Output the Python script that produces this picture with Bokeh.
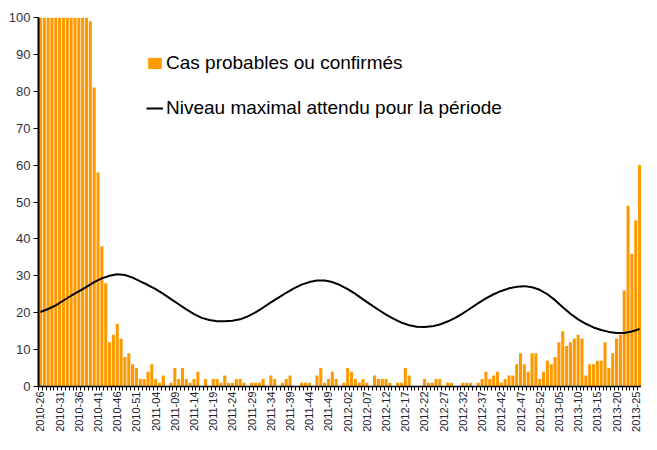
from bokeh.plotting import figure
from bokeh.models import FixedTicker, Range1d, Legend, LegendItem
from bokeh.embed import file_html
from bokeh.resources import INLINE
import math

# ISO weeks shown on the category axis
weeks = ([f"2010-{w:02d}" for w in range(26, 53)]
         + [f"2011-{w:02d}" for w in range(1, 53)]
         + [f"2012-{w:02d}" for w in range(1, 53)]
         + [f"2013-{w:02d}" for w in range(1, 27)])

# Weekly probable or confirmed cases (clipped at 100 by the axis)
cases = [
    100, 100, 100, 100, 100, 100, 100, 100, 100, 100, 100, 100, 100, 99, 81, 58, 38, 28, 12, 14,
    17, 13, 8, 9, 6, 5, 2,
    2, 4, 6, 2, 1, 3, 0, 1, 5, 2, 5, 2, 1, 2, 4, 0, 2, 0, 2, 2, 1, 3, 1,
    1, 2, 2, 1, 0, 1, 1, 1, 2, 0, 3, 2, 0, 1, 2, 3, 0, 0, 1, 1,
    1, 0, 3, 5, 1, 2, 4, 2, 0,
    1, 5, 4, 2, 1, 2, 1, 0, 3, 2, 2, 2, 1, 0, 1, 1, 5, 3, 0, 0,
    0, 2, 1, 1, 2, 2, 0, 1, 1, 0, 0, 1, 1, 1, 0, 1, 2, 4, 2, 3,
    4, 1, 2, 3, 3, 6, 9, 6, 4, 9, 9, 2,
    4, 7, 6, 8, 12, 15, 11, 12, 13, 14, 13, 3, 6, 6, 7, 7, 12, 5, 9, 13,
    14, 26, 49, 36, 45, 60,
]

# Expected maximum level, read every second week
level_weeks = weeks[::2]
level = [
    20.2, 21.0, 22.0, 23.3, 24.6, 25.8, 27.0, 28.3, 29.3, 30.0,
    30.4, 30.2, 29.5, 28.5, 27.5, 26.4, 25.1, 23.7, 22.3, 20.9,
    19.6, 18.6, 18.0, 17.7, 17.7, 17.8, 18.2, 19.0, 20.1, 21.4,
    22.8, 24.1, 25.4, 26.6, 27.6, 28.3, 28.7, 28.7, 28.3, 27.5,
    26.4, 25.1, 23.6, 22.2, 20.8, 19.5, 18.3, 17.3, 16.6, 16.2,
    16.1, 16.3, 16.8, 17.6, 18.6, 19.8, 21.2, 22.6, 23.9, 25.0,
    25.9, 26.6, 27.0, 27.2, 26.9, 26.2, 25.0, 23.4, 21.5, 19.7,
    18.2, 17.0, 16.0, 15.3, 14.8, 14.5, 14.5, 14.9, 15.6,
]

tick_weeks = weeks[::5]
y_ticks = [0, 10, 20, 30, 40, 50, 60, 70, 80, 90, 100]

pos = {w: i for i, w in enumerate(weeks)}
x_pos = [pos[w] for w in weeks]

p = figure(width=641, height=434, output_backend="svg", toolbar_location=None,
           x_range=Range1d(-0.5, len(weeks) - 0.5), y_range=Range1d(0, 100),
           min_border_left=38, min_border_right=0, min_border_top=17, min_border_bottom=30)
p.outline_line_color = None
p.grid.visible = False
p.background_fill_color = "white"
p.border_fill_color = "white"

bars = p.vbar(x=x_pos, top=cases, width=0.8, fill_color="#FF9900", line_color=None)
line = p.line(x=[pos[w] for w in level_weeks], y=level, line_color="black", line_width=2)

font = "Liberation Sans"

xa = p.xaxis[0]
xa.ticker = FixedTicker(ticks=[pos[w] for w in tick_weeks],
                        minor_ticks=[i - 0.5 for i in range(len(weeks) + 1)])
xa.major_label_overrides = {pos[w]: w for w in tick_weeks}
xa.major_label_orientation = math.pi / 2
xa.major_tick_line_color = None
xa.major_tick_out = 0
xa.major_tick_in = 0
xa.minor_tick_out = 4
xa.minor_tick_in = 0
xa.minor_tick_line_color = "black"
xa.axis_line_color = "black"
xa.axis_line_width = 1.5
xa.major_label_standoff = 1
xa.major_label_text_font = font
xa.major_label_text_font_size = "11px"
xa.major_label_text_color = "#222233"

ya = p.yaxis[0]
ya.ticker = FixedTicker(ticks=y_ticks)
ya.major_tick_out = 5
ya.major_tick_in = 0
ya.minor_tick_line_color = None
ya.axis_line_color = "black"
ya.axis_line_width = 2
ya.major_label_standoff = 3
ya.major_label_text_font = font
ya.major_label_text_font_size = "13px"
ya.major_label_text_color = "#333344"

legend = Legend(items=[
    LegendItem(label="Cas probables ou confirmés", renderers=[bars]),
    LegendItem(label="Niveau maximal attendu pour la période", renderers=[line]),
], location=(108, 267))
legend.label_text_font = font
legend.label_text_font_size = "19px"
legend.label_text_color = "black"
legend.glyph_width = 17
legend.glyph_height = 14
legend.label_standoff = 3
legend.spacing = 23
legend.padding = 0
legend.margin = 0
legend.border_line_color = None
legend.background_fill_alpha = 0
p.add_layout(legend)

open("out.html", "w").write(file_html(p, INLINE))
